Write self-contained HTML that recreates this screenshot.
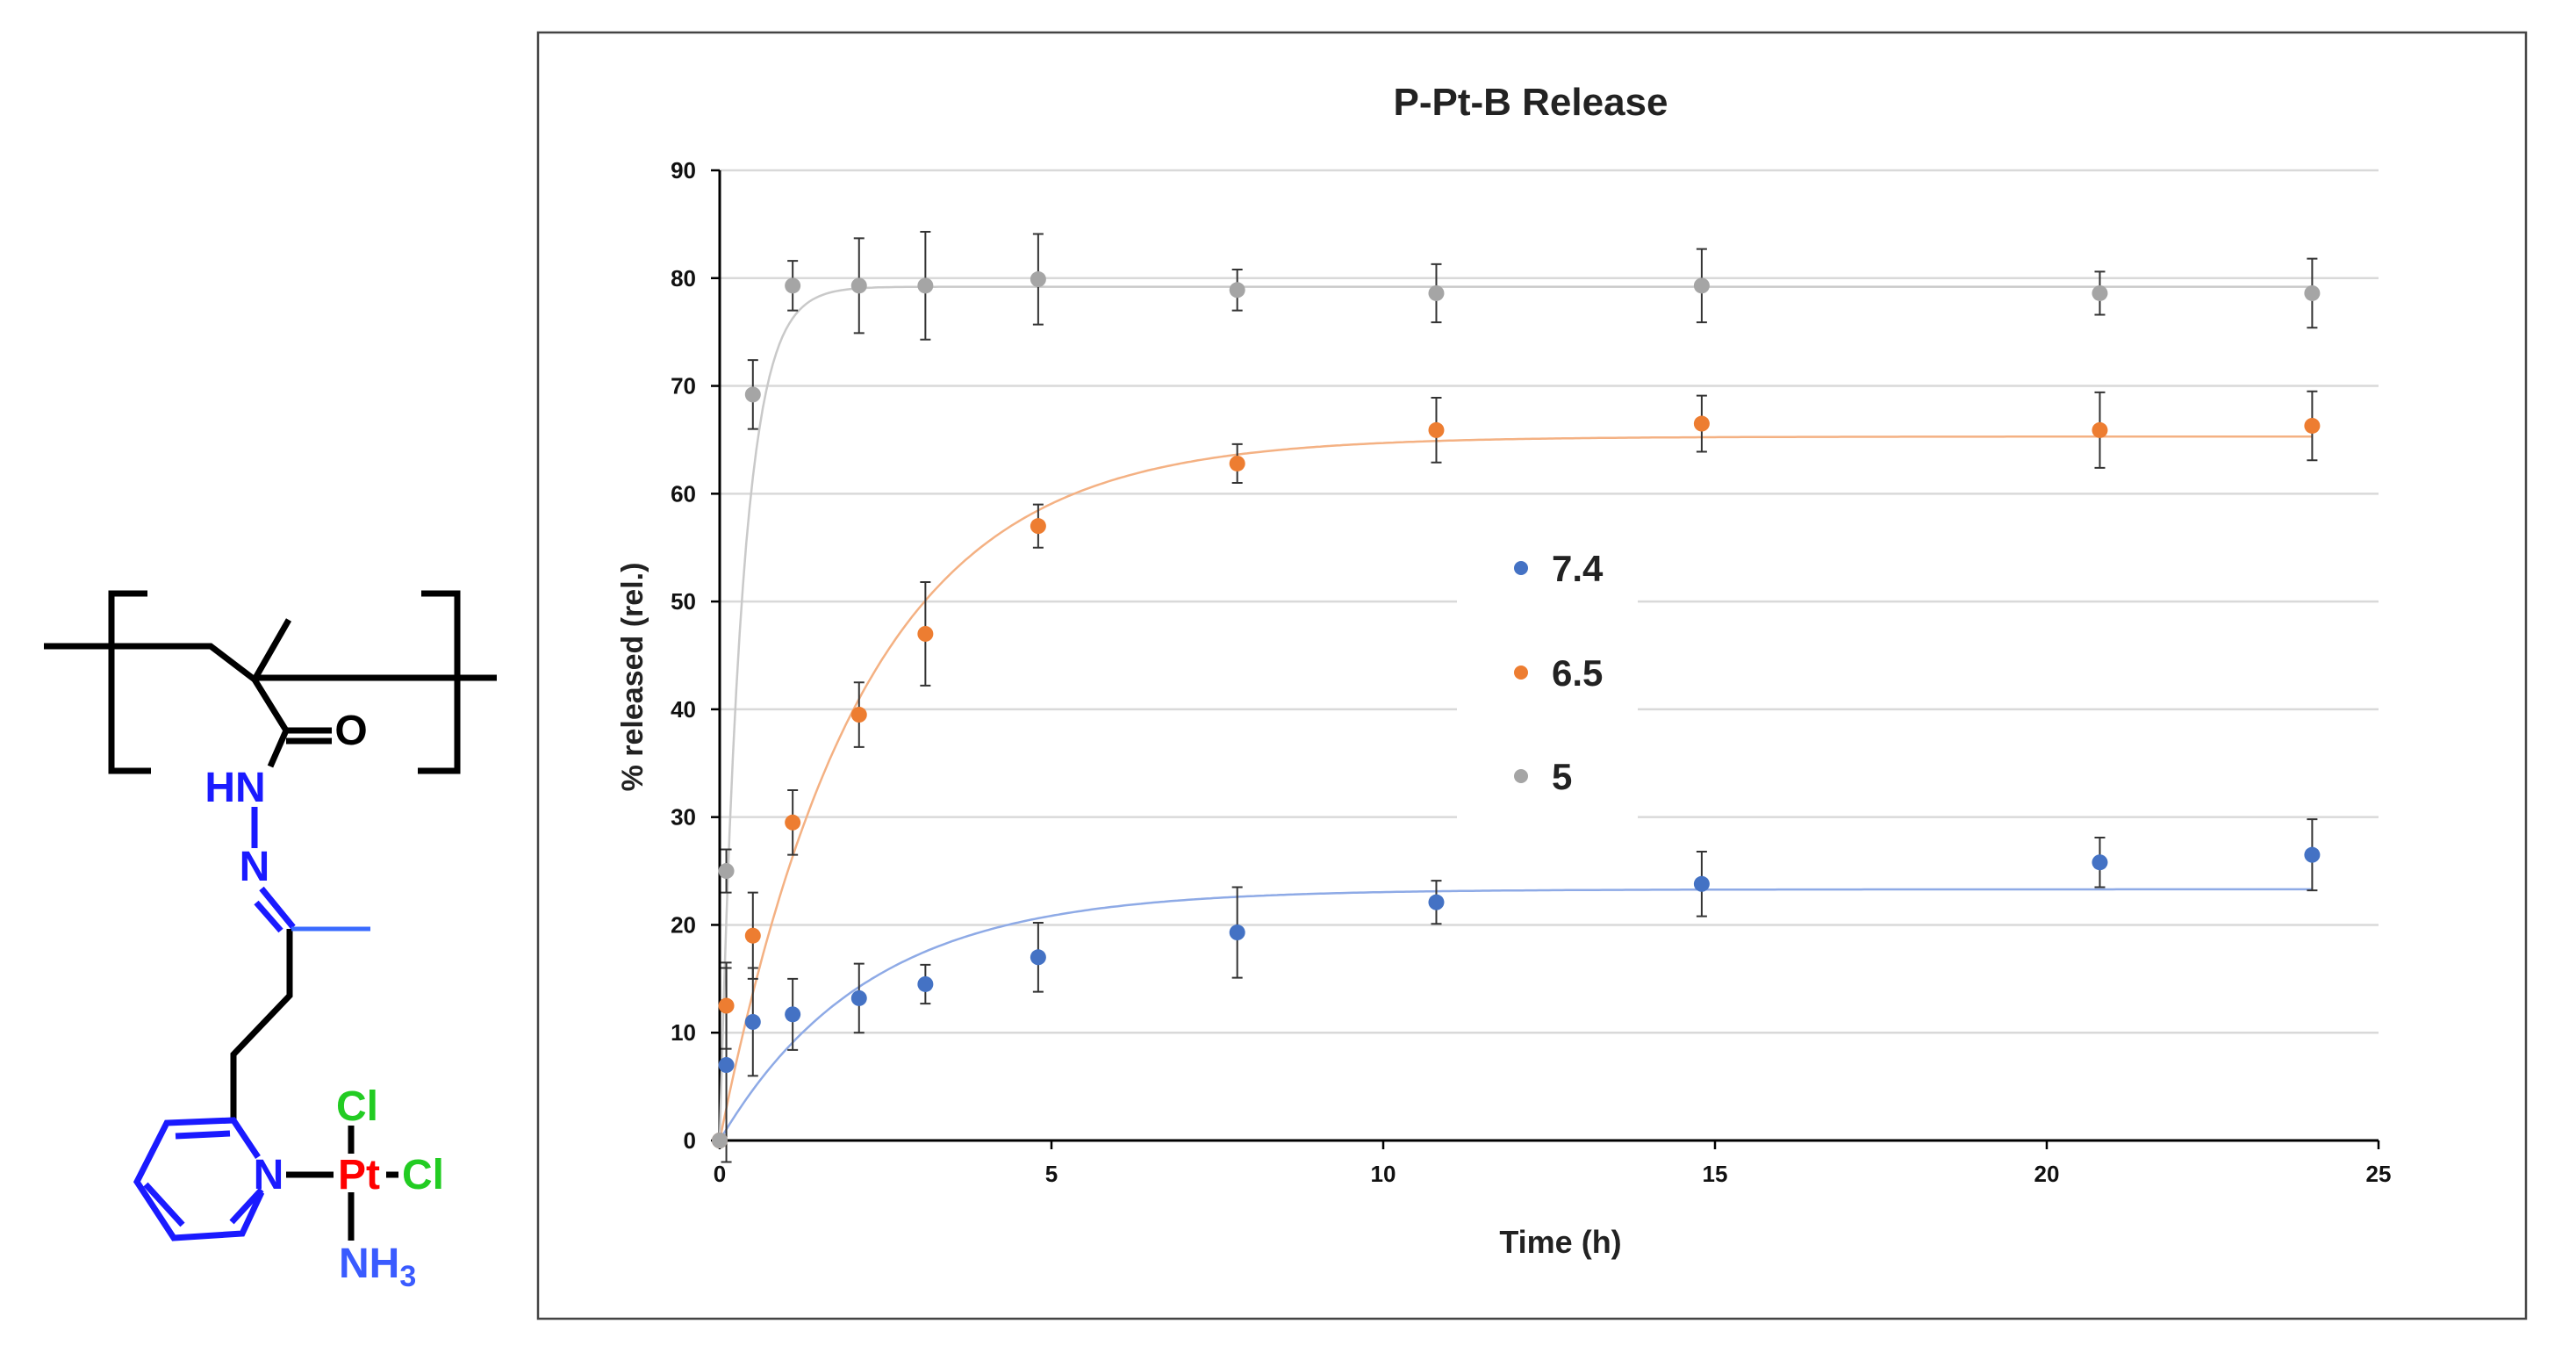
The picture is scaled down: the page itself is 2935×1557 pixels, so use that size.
<!DOCTYPE html>
<html><head><meta charset="utf-8"><style>
html,body{margin:0;padding:0;background:#fff;}
svg{display:block;font-family:"Liberation Sans",sans-serif;}
</style></head><body>
<svg id="root" width="2935" height="1557" viewBox="0 0 2935 1557" xmlns="http://www.w3.org/2000/svg">
<g stroke-linecap="butt" fill="none">
  <g stroke="#000" stroke-width="7">
    <polyline points="168,676 127,676 127,878 172,878"/>
    <polyline points="480,676 521,676 521,878 476,878"/>
    <polyline points="50,736 240,736 290,774"/>
    <line x1="290" y1="772" x2="566" y2="772"/>
    <line x1="290" y1="774" x2="329" y2="706"/>
    <polyline points="290,774 326,832 308,873"/>
    <line x1="326" y1="832" x2="378" y2="832"/>
    <line x1="326" y1="844" x2="378" y2="844"/>
    <polyline points="330,1058 330,1134 266,1201 266,1276"/>
    <line x1="326" y1="1338" x2="380" y2="1338"/>
    <line x1="440" y1="1338" x2="454" y2="1338"/>
    <line x1="400" y1="1282" x2="400" y2="1314"/>
    <line x1="400" y1="1358" x2="400" y2="1413"/>
  </g>
  <g stroke="#1a1aff" stroke-width="7">
    <line x1="290" y1="919" x2="290" y2="966"/>
    <line x1="298" y1="1012" x2="334" y2="1056"/>
    <line x1="292" y1="1028" x2="320" y2="1060"/>
    <polyline points="294,1318 266,1276 190,1279 156,1346 198,1410 276,1405 298,1358"/>
    <line x1="200" y1="1294" x2="262" y2="1291"/>
    <line x1="166" y1="1349" x2="208" y2="1395"/>
    <line x1="264" y1="1392" x2="298" y2="1355"/>
  </g>
  <line x1="332" y1="1058" x2="422" y2="1058" stroke="#3a6bff" stroke-width="5"/>
  <g font-weight="bold" font-size="48" stroke="none">
    <text x="400" y="848" fill="#000" text-anchor="middle">O</text>
    <text x="268" y="913" fill="#1a1aff" text-anchor="middle">HN</text>
    <text x="290" y="1003" fill="#1a1aff" text-anchor="middle">N</text>
    <text x="306" y="1354" fill="#1a1aff" text-anchor="middle">N</text>
    <text x="409" y="1354" fill="#ff0000" text-anchor="middle">Pt</text>
    <text x="482" y="1354" fill="#22cc22" text-anchor="middle">Cl</text>
    <text x="407" y="1276" fill="#22cc22" text-anchor="middle">Cl</text>
    <text x="386" y="1455" fill="#3a5bff">NH<tspan font-size="34" dy="10">3</tspan></text>
  </g>
</g>
<rect x="613" y="37" width="2265" height="1465" fill="#fff" stroke="#444" stroke-width="2.5"/>
<g id="chart"></g>
</svg>
<script>
const times=[0,0.1,0.5,1.1,2.1,3.1,4.8,7.8,10.8,14.8,20.8,24];
const seriesNames=["7.4","6.5","5"];
const colors=["#4472c4","#ed7d31","#a5a5a5"];
const fitColors=["#8eaae6","#f4b183","#c9c9c9"];
const blueVals=[0,7,11,11.7,13.2,14.5,17,19.3,22.1,23.8,25.8,26.5];
const blueErr=[0,9,5,3.3,3.2,1.8,3.2,4.2,2,3,2.3,3.3];
const orangeVals=[0,12.5,19,29.5,39.5,47,57,62.8,65.9,66.5,65.9,66.3];
const orangeErr=[0,4,4,3,3,4.8,2,1.8,3,2.6,3.5,3.2];
const grayVals=[0,25,69.2,79.3,79.3,79.3,79.9,78.9,78.6,79.3,78.6,78.6];
const grayErr=[0,2,3.2,2.3,4.4,5,4.2,1.9,2.7,3.4,2,3.2];
const fitPlateau=[23.3,65.3,79.2];
const fitRate=[0.45,0.47,3.0];
const xTicks=[0,5,10,15,20,25];
const yTicks=[0,10,20,30,40,50,60,70,80,90];

const NS="http://www.w3.org/2000/svg";
const g=document.getElementById('chart');
const X0=820,X1=2710,Y0=1299,Y1=194;
const xs=v=>X0+(v-0)/(25-0)*(X1-X0);
const ys=v=>Y0-(v-0)/(90-0)*(Y0-Y1);
function mk(tag,attrs,parent){const e=document.createElementNS(NS,tag);for(const k in attrs)e.setAttribute(k,attrs[k]);(parent||g).appendChild(e);return e;}

yTicks.forEach(v=>{
  if(v>0){const l=mk('line',{x1:X0,x2:X1,y1:ys(v),y2:ys(v),stroke:'#d9d9d9','stroke-width':2.5});
  
  }
  const t=mk('line',{x1:X0-10,x2:X0,y1:ys(v),y2:ys(v),stroke:'#000','stroke-width':2.5});
  
  
  const tx=mk('text',{x:X0-27,y:ys(v)+9,'text-anchor':'end','font-size':26,'font-weight':'bold',fill:'#111'});
  tx.textContent=v;
  
  
});
const lb=mk('rect',{x:1660,y:590,width:206,height:350,fill:'#fff'});


const ya=mk('line',{x1:X0,x2:X0,y1:Y1,y2:Y0,stroke:'#000','stroke-width':3});


const xa=mk('line',{x1:X0,x2:X1,y1:Y0,y2:Y0,stroke:'#000','stroke-width':3});


xTicks.forEach(v=>{
  const t=mk('line',{x1:xs(v),x2:xs(v),y1:Y0,y2:Y0+10,stroke:'#000','stroke-width':2.5});
  
  
  const tx=mk('text',{x:xs(v),y:Y0+47,'text-anchor':'middle','font-size':26,'font-weight':'bold',fill:'#111'});
  tx.textContent=v;
  
  
});
const ti=mk('text',{x:1744,y:131,'text-anchor':'middle','font-size':44,'font-weight':'bold',fill:'#222'});
ti.textContent='P-Pt-B  Release';


const xt=mk('text',{x:1778,y:1427,'text-anchor':'middle','font-size':36,'font-weight':'bold',fill:'#222'});
xt.textContent='Time (h)';


const yt=mk('text',{x:0,y:0,'text-anchor':'middle','font-size':34,'font-weight':'bold',fill:'#222',transform:'translate(732,771) rotate(-90)'});
yt.textContent='% released (rel.)';



const allVals=[blueVals,orangeVals,grayVals];
const allErr=[blueErr,orangeErr,grayErr];
for(let s=0;s<3;s++){
  let d='';
  for(let i=0;i<=480;i++){const t=24*i/480;const v=fitPlateau[s]*(1-Math.exp(-fitRate[s]*t));d+=(i?'L':'M')+xs(t).toFixed(1)+','+ys(v).toFixed(1);}
  const p=mk('path',{d:d,fill:'none',stroke:fitColors[s],'stroke-width':2.5});
  
  
}
for(let s=0;s<3;s++){
  const vals=allVals[s],err=allErr[s];
  times.forEach((t,i)=>{
    if(err[i]>0){
      const x=xs(t),a=ys(vals[i]+err[i]),b=ys(vals[i]-err[i]);
      const e=mk('path',{d:`M${x},${a}V${b}M${x-6},${a}H${x+6}M${x-6},${b}H${x+6}`,stroke:'#333','stroke-width':2,fill:'none'});
      
      
    }
    const c=mk('circle',{cx:xs(t),cy:ys(vals[i]),r:9,fill:colors[s]});
    
    
  });
}
const legY=[647,766,884];
for(let s=0;s<3;s++){
  const c=mk('circle',{cx:1733,cy:legY[s],r:8,fill:colors[s]});
  
  
  const t=mk('text',{x:1768,y:legY[s]+15,'font-size':42,'font-weight':'bold',fill:'#222'});
  t.textContent=seriesNames[s];
  
  
}
</script>
</body></html>
